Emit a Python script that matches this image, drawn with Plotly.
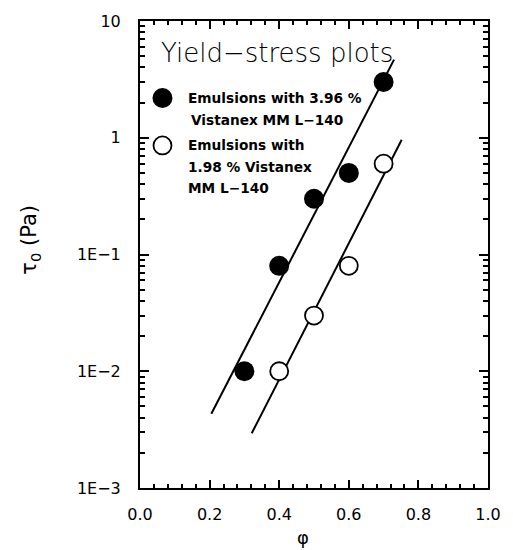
import plotly.graph_objects as go

# Volume fraction of dispersed phase and yield stress (Pa)
phi_396 = [0.3, 0.4, 0.5, 0.6, 0.7]
tau_396 = [0.01, 0.08, 0.3, 0.5, 3.0]

phi_198 = [0.4, 0.5, 0.6, 0.7]
tau_198 = [0.01, 0.03, 0.08, 0.6]

# Fitted exponential lines (end points)
fit_phi_396 = [0.205, 0.730]
fit_tau_396 = [0.00432, 4.67]
fit_phi_198 = [0.321, 0.752]
fit_tau_198 = [0.00294, 0.962]

x_ticks = [0.0, 0.2, 0.4, 0.6, 0.8, 1.0]
x_ticktext = ["0.0", "0.2", "0.4", "0.6", "0.8", "1.0"]
y_ticks = [1e-3, 1e-2, 1e-1, 1, 10]
y_ticktext = ["1E\u22123", "1E\u22122", "1E\u22121", "1", "10"]
y_minor = [m * 10 ** e for e in range(-3, 1) for m in range(2, 10)]

legend_lines_396 = ["Emulsions with 3.96 %", "Vistanex MM L\u2212140"]
legend_lines_198 = ["Emulsions with", "1.98 % Vistanex", "MM L\u2212140"]

FONT = "DejaVu Sans, Verdana, sans-serif"

fig = go.Figure()

fig.add_trace(go.Scatter(x=fit_phi_396, y=fit_tau_396, mode="lines",
                         line=dict(color="black", width=2), showlegend=False))
fig.add_trace(go.Scatter(x=fit_phi_198, y=fit_tau_198, mode="lines",
                         line=dict(color="black", width=2), showlegend=False))
fig.add_trace(go.Scatter(x=phi_396, y=tau_396, mode="markers",
                         marker=dict(symbol="circle", size=20, color="black",
                                     line=dict(width=0)),
                         showlegend=False))
fig.add_trace(go.Scatter(x=phi_198, y=tau_198, mode="markers",
                         marker=dict(symbol="circle", size=18, color="white",
                                     line=dict(color="black", width=1.8)),
                         showlegend=False))

# Key symbols drawn as fixed-size circles
def key_circle(xp, yp, r, fill, lw):
    fig.add_shape(type="circle", xref="paper", yref="paper",
                  xsizemode="pixel", ysizemode="pixel",
                  xanchor=xp, yanchor=yp, x0=-r, x1=r, y0=-r, y1=r,
                  fillcolor=fill, line=dict(color="black", width=lw))

plot_w, plot_h = 356, 473
def px(xpix):
    return (xpix - 140) / plot_w
def py(ypix):
    return (488 - ypix) / plot_h

key_circle(px(163), py(93), 10, "black", 0)
key_circle(px(163), py(141), 9, "white", 1.8)

for i, t in enumerate(legend_lines_396):
    fig.add_annotation(x=px(187 + 3 * i), y=py(93 + 22 * i), xref="paper", yref="paper",
                       text=t, showarrow=False, xanchor="left", yanchor="middle",
                       font=dict(family=FONT, size=13.7, color="black", weight="bold"))
for i, t in enumerate(legend_lines_198):
    fig.add_annotation(x=px(187), y=py(141 + 21.5 * i), xref="paper", yref="paper",
                       text=t, showarrow=False, xanchor="left", yanchor="middle",
                       font=dict(family=FONT, size=13.7, color="black", weight="bold"))

fig.add_annotation(x=px(159), y=py(47), xref="paper", yref="paper",
                   text="Yield\u2212stress plots", showarrow=False,
                   xanchor="left", yanchor="middle",
                   font=dict(family=FONT, size=26, color="black", weight=200))

# Axis titles
fig.add_annotation(x=px(307), y=py(538), xref="paper", yref="paper",
                   text="\u03c6", showarrow=False, xanchor="center", yanchor="middle",
                   font=dict(family=FONT, size=18, color="black"))
fig.add_annotation(x=px(28), y=py(237), xref="paper", yref="paper",
                   text="\u03c4<sub>0</sub> (Pa)", showarrow=False, textangle=-90,
                   xanchor="center", yanchor="middle",
                   font=dict(family=FONT, size=21, color="black"))

axis_common = dict(showline=True, linecolor="black", linewidth=2, mirror="ticks",
                   ticks="inside", tickcolor="black", tickwidth=1.5,
                   showgrid=False, zeroline=False,
                   tickfont=dict(family=FONT, size=16, color="black"))

fig.update_xaxes(range=[0, 1], tickvals=x_ticks, ticktext=x_ticktext, ticklen=8,
                 minor=dict(ticks="inside", dtick=0.04, tick0=0, ticklen=4,
                            tickcolor="black", tickwidth=1.5, showgrid=False),
                 ticklabelstandoff=11,
                 **axis_common)
fig.update_yaxes(type="log", range=[-3, 1], tickvals=y_ticks, ticktext=y_ticktext,
                 ticklen=9,
                 minor=dict(ticks="inside", tickvals=y_minor, ticklen=5,
                            tickcolor="black", tickwidth=1.5, showgrid=False),
                 ticklabelstandoff=14,
                 **axis_common)

fig.update_layout(width=513, height=550, margin=dict(l=140, r=17, t=15, b=62),
                  plot_bgcolor="white", paper_bgcolor="white", showlegend=False)

fig.write_html("out.html")
